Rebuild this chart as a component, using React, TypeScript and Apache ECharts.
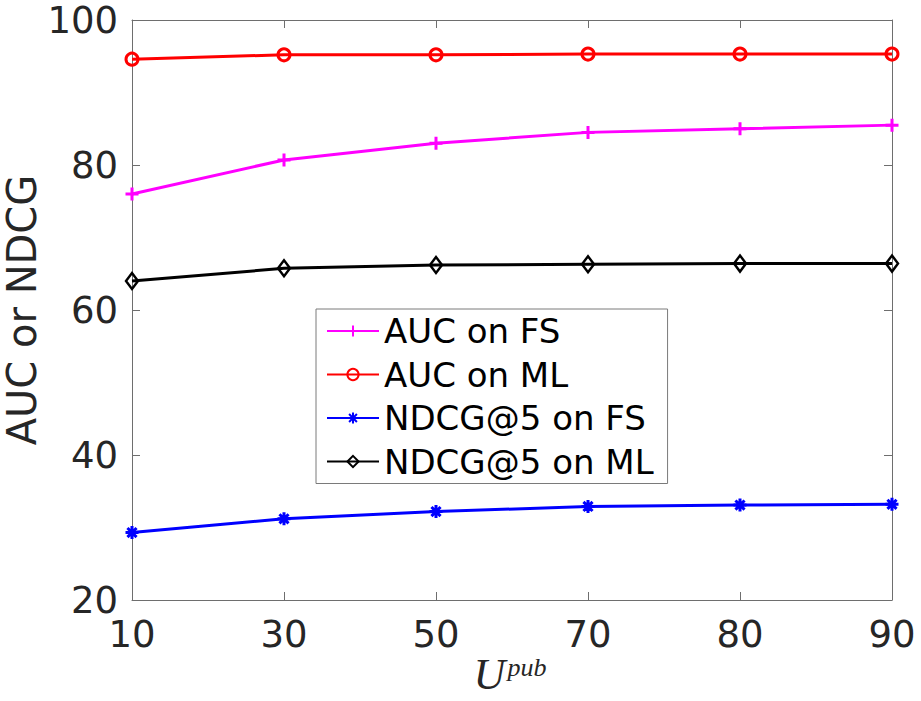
import React, { useEffect, useRef } from "react";
import * as echarts from "echarts";

const categories = ["10", "30", "50", "70", "80", "90"];
const aucFS = [76.0, 80.7, 83.0, 84.5, 85.0, 85.5];
const aucML = [94.6, 95.2, 95.2, 95.3, 95.3, 95.3];
const ndcgFS = [29.3, 31.2, 32.2, 32.9, 33.1, 33.2];
const ndcgML = [64.0, 65.75, 66.2, 66.3, 66.4, 66.4];
const yMin = 20;
const yMax = 100;
const yStep = 20;
const seriesNames = ["AUC on FS", "AUC on ML", "NDCG@5 on FS", "NDCG@5 on ML"];
const yTitle = "AUC or NDCG";

const FONT = "DejaVu Sans";
const AXIS_COLOR = "#6e6e6e";
const TEXT_COLOR = "#262626";

const plusPath = "path://M5,0 L5,10 M0,5 L10,5";
const starPath = "path://M5,0 L5,10 M0,5 L10,5 M1.5,1.5 L8.5,8.5 M8.5,1.5 L1.5,8.5";

export default function App() {
  const ref = useRef<HTMLDivElement>(null);
  useEffect(() => {
    if (!ref.current) return;
    const chart = echarts.init(ref.current, undefined, { renderer: "svg" });
    const tickCommon = {
      show: true,
      inside: true,
      length: 8,
      lineStyle: { color: AXIS_COLOR, width: 1 },
    };
    const lineCommon = { show: true, lineStyle: { color: AXIS_COLOR, width: 1 } };
    const mk = (name: string, data: number[], color: string, symbol: string, size: any, bw: number) => ({
      name,
      type: "line",
      data,
      xAxisIndex: 0,
      yAxisIndex: 0,
      symbol,
      symbolSize: size,
      showSymbol: true,
      lineStyle: { color, width: 3 },
      itemStyle: { color: "rgba(0,0,0,0)", borderColor: color, borderWidth: bw },
      emphasis: { disabled: true },
      z: 3,
    });
    chart.setOption({
      animation: false,
      backgroundColor: "#ffffff",
      grid: {
        left: 132,
        right: 29,
        top: 20,
        bottom: 101,
        containLabel: false,
        outerBoundsMode: "none",
      },
      graphic: [
        {
          type: "text",
          x: 22,
          y: 310,
          rotation: Math.PI / 2,
          style: {
            text: yTitle,
            fontSize: 40,
            fontFamily: FONT,
            fill: TEXT_COLOR,
            align: "center",
            verticalAlign: "middle",
          },
        },
        {
          type: "text",
          x: 510,
          y: 674,
          style: {
            text: "{u|U}{p|pub}",
            align: "center",
            verticalAlign: "middle",
            rich: {
              u: { fontFamily: "Liberation Serif", fontStyle: "italic", fontSize: 44, lineHeight: 40, fill: TEXT_COLOR },
              p: { fontFamily: "Liberation Serif", fontStyle: "italic", fontSize: 26, lineHeight: 28, fill: TEXT_COLOR, verticalAlign: "top", padding: [0, 0, 0, 2] },
            },
          },
        },
      ],
      xAxis: [
        {
          type: "category",
          data: categories,
          boundaryGap: false,
          position: "bottom",
          axisLine: lineCommon,
          axisTick: { ...tickCommon, alignWithLabel: true },
          splitLine: { show: false },
          axisLabel: { fontSize: 37, color: TEXT_COLOR, fontFamily: FONT, margin: 16 },
        },
        {
          type: "category",
          data: categories,
          boundaryGap: false,
          position: "top",
          axisLine: lineCommon,
          axisTick: { ...tickCommon, alignWithLabel: true },
          axisLabel: { show: false },
          splitLine: { show: false },
        },
      ],
      yAxis: [
        {
          type: "value",
          min: yMin,
          max: yMax,
          interval: yStep,
          position: "left",
          axisLine: lineCommon,
          axisTick: tickCommon,
          splitLine: { show: false },
          axisLabel: { fontSize: 37, color: TEXT_COLOR, fontFamily: FONT, margin: 14 },
        },
        {
          type: "value",
          min: yMin,
          max: yMax,
          interval: yStep,
          position: "right",
          axisLine: lineCommon,
          axisTick: tickCommon,
          splitLine: { show: false },
          axisLabel: { show: false },
        },
      ],
      legend: {
        data: seriesNames,
        orient: "vertical",
        left: 316,
        top: 309,
        itemWidth: 52,
        itemHeight: 14,
        itemGap: 7.5,
        padding: [4, 14, 4, 10],
        borderColor: "#7a7a7a",
        borderWidth: 1,
        backgroundColor: "#ffffff",
        textStyle: { fontSize: 34, color: "#000000", fontFamily: FONT, lineHeight: 36 },
        selectedMode: false,
      },
      series: [
        mk(seriesNames[0], aucFS, "#ff00ff", plusPath, 13, 3),
        mk(seriesNames[1], aucML, "#ff0000", "circle", 12, 3),
        mk(seriesNames[2], ndcgFS, "#0000ff", starPath, 13, 3),
        mk(seriesNames[3], ndcgML, "#000000", "diamond", [12, 16], 2.5),
      ],
    });
    return () => chart.dispose();
  }, []);
  return (
    <div
      ref={ref}
      style={{ position: "fixed", left: 0, top: 0, width: 921, height: 701, background: "#fff" }}
    />
  );
}
